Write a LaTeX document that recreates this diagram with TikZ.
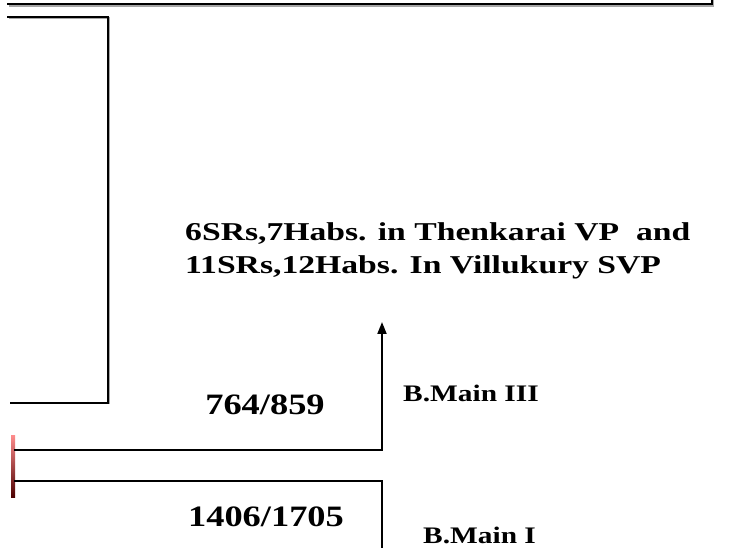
\documentclass[tikz,border=0pt]{standalone}
\usepackage{fontspec}
\setmainfont{Liberation Serif}
\newfontfamily\fbig{Liberation Serif}[FakeStretch=1.23]
\newfontfamily\fmed{Liberation Serif}[FakeStretch=1.31]
\newfontfamily\fsmall{Liberation Serif}[FakeStretch=1.24]
\usetikzlibrary{arrows.meta}
\begin{document}
\begin{tikzpicture}[x=1pt,y=-1pt,
  wire/.style={line width=2pt,black,line cap=rect},
  shadowwire/.style={line width=2pt,black!35},
  big/.style={font=\fbig\fontsize{29.6}{31}\selectfont\bfseries,inner sep=0pt},
  med/.style={font=\fmed\fontsize{25.7}{33}\selectfont\bfseries,inner sep=0pt,align=left},
  small/.style={font=\fsmall\fontsize{23.7}{25}\selectfont\bfseries,inner sep=0pt}]
\useasboundingbox (0,0) rectangle (729,548);
% top frame line
\coordinate (t1) at (8,4);
\coordinate (t2) at (712,4);
\coordinate (t3) at (712,-2);
\draw[shadowwire] ([shift={(1,2)}]t1) -- ([shift={(1,2)}]t2) -- ([shift={(1,2)}]t3);
\draw[wire] (t1) -- (t2) -- (t3);
% left bracket
\coordinate (b1) at (8,17);
\coordinate (b2) at (108,17);
\coordinate (b3) at (108,403);
\coordinate (b4) at (11,403);
\draw[shadowwire] ([shift={(1,1)}]b1) -- ([shift={(1,1)}]b2) -- ([shift={(1,1)}]b3);
\draw[wire] (b1) -- (b2) -- (b3) -- (b4);
% red bar
\shade[top color=red!45, bottom color=red!30!black] (11,435) rectangle (15,497);
% branch III
\coordinate (m1) at (15,450);
\coordinate (m2) at (382,450);
\node[med,anchor=base west] (txt) at (185,274) {6SRs,7Habs. in Thenkarai VP\ \ and\\11SRs,12Habs. In Villukury SVP};
\coordinate (tip) at (382,322);
\draw[wire] (m1) -- (m2);
\draw[line width=2pt,-{Triangle[length=12pt,width=9pt]}] (m2) -- (tip);
% branch I
\coordinate (n1) at (15,481);
\coordinate (n2) at (382,481);
\coordinate (n3) at (382,552);
\draw[wire] (n1) -- (n2) -- (n3);
% labels
\node[big,anchor=base] (l1) at (265,414) {764/859};
\node[big,anchor=base] (l2) at (266,526) {1406/1705};
\node[small,anchor=base west] (s1) at (403,401) {B.Main III};
\node[small,anchor=base west] (s2) at (423,543) {B.Main I};
\end{tikzpicture}
\end{document}
